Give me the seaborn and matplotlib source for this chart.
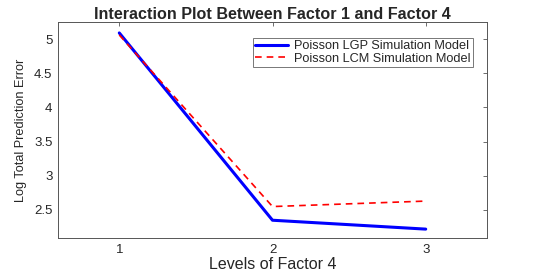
import numpy as np
import pandas as pd
import seaborn as sns
import matplotlib
matplotlib.use("Agg")
import matplotlib.pyplot as plt

levels = [1, 2, 3]
lgp_err = [5.09, 2.35, 2.22]
lcm_err = [5.06, 2.55, 2.63]
series_names = ["Poisson LGP Simulation Model", "Poisson LCM Simulation Model"]

df = pd.DataFrame({
    "level": levels * 2,
    "err": lgp_err + lcm_err,
    "model": [series_names[0]] * 3 + [series_names[1]] * 3,
})

sns.set_style("white")
plt.rcParams["font.family"] = ["Liberation Sans", "DejaVu Sans"]

fig = plt.figure(figsize=(5.45, 2.73), dpi=100)
ax = fig.add_axes([58 / 545, 1 - 238 / 273, (487 - 58) / 545, (238 - 22) / 273])

sns.lineplot(data=df[df.model == series_names[0]], x="level", y="err",
             color="#0000ff", lw=2.2, label=series_names[0], ax=ax)
sns.lineplot(data=df[df.model == series_names[1]], x="level", y="err",
             color="#ff0000", lw=1.2, ls=(0, (4, 3)), label=series_names[1], ax=ax)

ax.set_xlim(0.6, 3.4)
ax.set_ylim(2.09, 5.25)
ax.set_xticks(levels)
ax.set_yticks([2.5, 3, 3.5, 4, 4.5, 5])
ax.set_yticklabels(["2.5", "3", "3.5", "4", "4.5", "5"])
ax.tick_params(direction="in", top=True, right=True, length=3, width=0.6,
               color="#555555", labelsize=9.5, labelcolor="#262626", pad=4)
for s in ax.spines.values():
    s.set_color("#555555")
    s.set_linewidth(0.7)

ax.set_title("Interaction Plot Between Factor 1 and Factor 4", fontsize=11.6,
             fontweight="bold", pad=2)
ax.set_xlabel("Levels of Factor 4", fontsize=11.5, color="#262626", labelpad=1)
ax.set_ylabel("Log Total Prediction Error", fontsize=9.2, color="#262626",
              family=["Liberation Sans Narrow", "Liberation Sans"], labelpad=5)

leg = ax.legend(loc="upper right", bbox_to_anchor=(0.967, 0.925), fontsize=9.2,
                frameon=True, fancybox=False, borderpad=0.15, handlelength=2.6,
                handletextpad=0.5, labelspacing=0.05, borderaxespad=0)
leg.get_frame().set_edgecolor("#555555")
leg.get_frame().set_linewidth(0.7)

fig.savefig("out.png", dpi=100)
